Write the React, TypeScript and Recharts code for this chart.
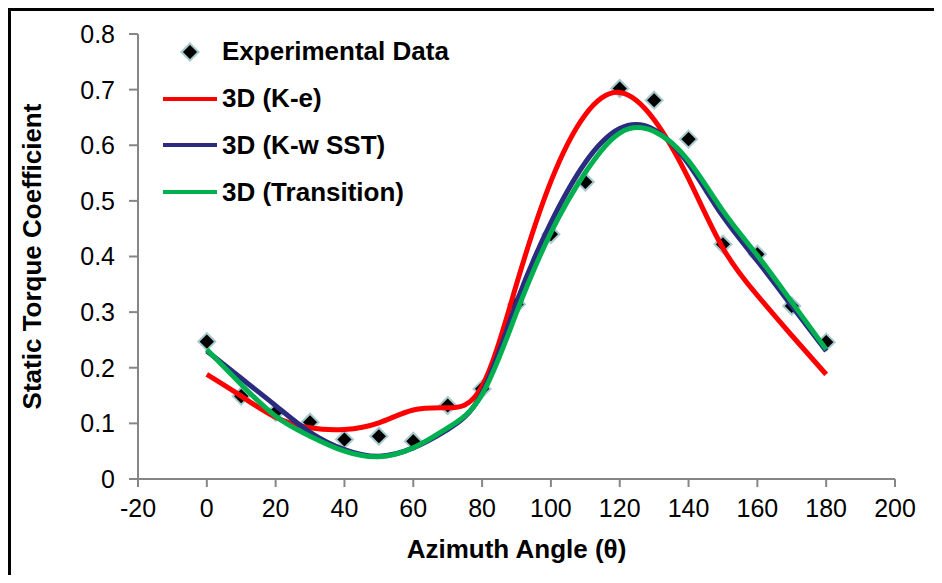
import { ComposedChart, Line, Scatter, XAxis, YAxis, Legend } from "recharts";

// azimuth angles (deg)
const angles = [0, 10, 20, 30, 40, 50, 60, 70, 80, 90, 100, 110, 120, 130, 140, 150, 160, 170, 180];

// static torque coefficient
const experimental = [0.247, 0.149, 0.12, 0.102, 0.071, 0.077, 0.068, 0.132, 0.162, 0.314, 0.44, 0.534, 0.702, 0.681, 0.611, 0.422, 0.404, 0.311, 0.246];
const kEpsilon = [0.188, 0.149, 0.111, 0.092, 0.089, 0.101, 0.124, 0.128, 0.167, 0.35, 0.535, 0.655, 0.695, 0.646, 0.54, 0.415, 0.33, 0.258, 0.188];
const kOmegaSST = [0.23, 0.181, 0.132, 0.084, 0.053, 0.041, 0.056, 0.089, 0.155, 0.317, 0.461, 0.569, 0.63, 0.628, 0.566, 0.472, 0.392, 0.311, 0.23];
const transition = [0.233, 0.17, 0.113, 0.077, 0.05, 0.04, 0.056, 0.092, 0.152, 0.299, 0.443, 0.551, 0.622, 0.625, 0.572, 0.482, 0.402, 0.318, 0.233];

const xTicks = [-20, 0, 20, 40, 60, 80, 100, 120, 140, 160, 180, 200];
const yTicks = [0, 0.1, 0.2, 0.3, 0.4, 0.5, 0.6, 0.7, 0.8];

const rows = angles.map((a, i) => ({
  angle: a,
  exp: experimental[i],
  ke: kEpsilon[i],
  sst: kOmegaSST[i],
  tr: transition[i],
}));

const FONT = '"Liberation Sans", Arial, sans-serif';
const AXIS = "#868686";
const MARKER_EDGE = "#A8C9CD";

const Diamond = (props: any) => {
  const { cx, cy } = props;
  if (cx == null || cy == null) return null;
  const r = 8.5;
  return (
    <polygon
      points={`${cx},${cy - r} ${cx + r},${cy} ${cx},${cy + r} ${cx - r},${cy}`}
      fill="#000"
      stroke={MARKER_EDGE}
      strokeWidth={2}
    />
  );
};

const renderLegend = (props: any) => {
  // marker entry first, then the lines in drawing order
  const payload = [...props.payload].sort(
    (a: any, b: any) => (a.type === "diamond" ? 0 : 1) - (b.type === "diamond" ? 0 : 1)
  );
  return (
    <div>
      {payload.map((entry: any) => (
        <div
          key={entry.value}
          style={{ display: "flex", alignItems: "center", height: 46.7 }}
        >
          <svg width={59} height={22} style={{ flexShrink: 0 }}>
            {entry.type === "diamond" ? (
              <polygon
                points="27,2.5 35.5,11 27,19.5 18.5,11"
                fill="#000"
                stroke={MARKER_EDGE}
                strokeWidth={2}
              />
            ) : (
              <line x1={0} y1={11} x2={54} y2={11} stroke={entry.color} strokeWidth={4} />
            )}
          </svg>
          <span style={{ fontFamily: FONT, fontWeight: "bold", fontSize: 26, color: "#000", whiteSpace: "nowrap" }}>
            {entry.value}
          </span>
        </div>
      ))}
    </div>
  );
};

const YTitle = (props: any) => {
  const { viewBox } = props;
  const x = viewBox.x + 21;
  const y = viewBox.y + viewBox.height / 2;
  return (
    <text
      x={x}
      y={y}
      transform={`rotate(-90, ${x}, ${y})`}
      textAnchor="middle"
      dominantBaseline="central"
      fontFamily={FONT}
      fontWeight="bold"
      fontSize={26}
      fill="#000"
    >
      Static Torque Coefficient
    </text>
  );
};

const XTitle = (props: any) => {
  const { viewBox } = props;
  return (
    <text
      x={viewBox.x + viewBox.width / 2}
      y={viewBox.y + 70}
      textAnchor="middle"
      dominantBaseline="central"
      fontFamily={FONT}
      fontWeight="bold"
      fontSize={26}
      fill="#000"
    >
      Azimuth Angle (θ)
    </text>
  );
};

export default function App() {
  return (
    <div style={{ width: 934, height: 575, overflow: "hidden", marginBottom: -8 }}>
      <div
        style={{
          width: 980,
          height: 640,
          border: "3px solid #000",
          boxSizing: "border-box",
          background: "#fff",
        }}
      >
        <ComposedChart
          width={931}
          height={572}
          data={rows}
          margin={{ top: 23, right: 47, left: 0, bottom: 44 }}
          style={{ fontFamily: FONT }}
        >
          <XAxis
            dataKey="angle"
            type="number"
            domain={[-20, 200]}
            ticks={xTicks}
            interval={0}
            height={60}
            tick={{ fill: "#000", fontSize: 25 }}
            tickSize={8}
            tickMargin={12}
            axisLine={{ stroke: AXIS, strokeWidth: 2 }}
            tickLine={{ stroke: AXIS, strokeWidth: 2 }}
            label={<XTitle />}
          />
          <YAxis
            type="number"
            domain={[0, 0.8]}
            ticks={yTicks}
            interval={0}
            width={127}
            tick={{ fill: "#000", fontSize: 25 }}
            tickSize={9}
            tickMargin={14}
            axisLine={{ stroke: AXIS, strokeWidth: 2 }}
            tickLine={{ stroke: AXIS, strokeWidth: 2 }}
            label={<YTitle />}
          />
          <Legend
            layout="vertical"
            align="center"
            verticalAlign="middle"
            content={renderLegend}
            wrapperStyle={{ left: 152, top: 17.6, width: "auto", height: "auto" }}
          />
          <Scatter
            name="Experimental Data"
            dataKey="exp"
            legendType="diamond"
            fill="#000"
            shape={Diamond}
            zIndex={300}
            isAnimationActive={false}
          />
          <Line
            name="3D (K-e)"
            dataKey="ke"
            type="natural"
            stroke="#FF0000"
            strokeWidth={5}
            dot={false}
            isAnimationActive={false}
          />
          <Line
            name="3D (K-w SST)"
            dataKey="sst"
            type="natural"
            stroke="#2B2B7F"
            strokeWidth={5}
            dot={false}
            isAnimationActive={false}
          />
          <Line
            name="3D (Transition)"
            dataKey="tr"
            type="natural"
            stroke="#00B050"
            strokeWidth={5}
            dot={false}
            isAnimationActive={false}
          />
        </ComposedChart>
      </div>
    </div>
  );
}
